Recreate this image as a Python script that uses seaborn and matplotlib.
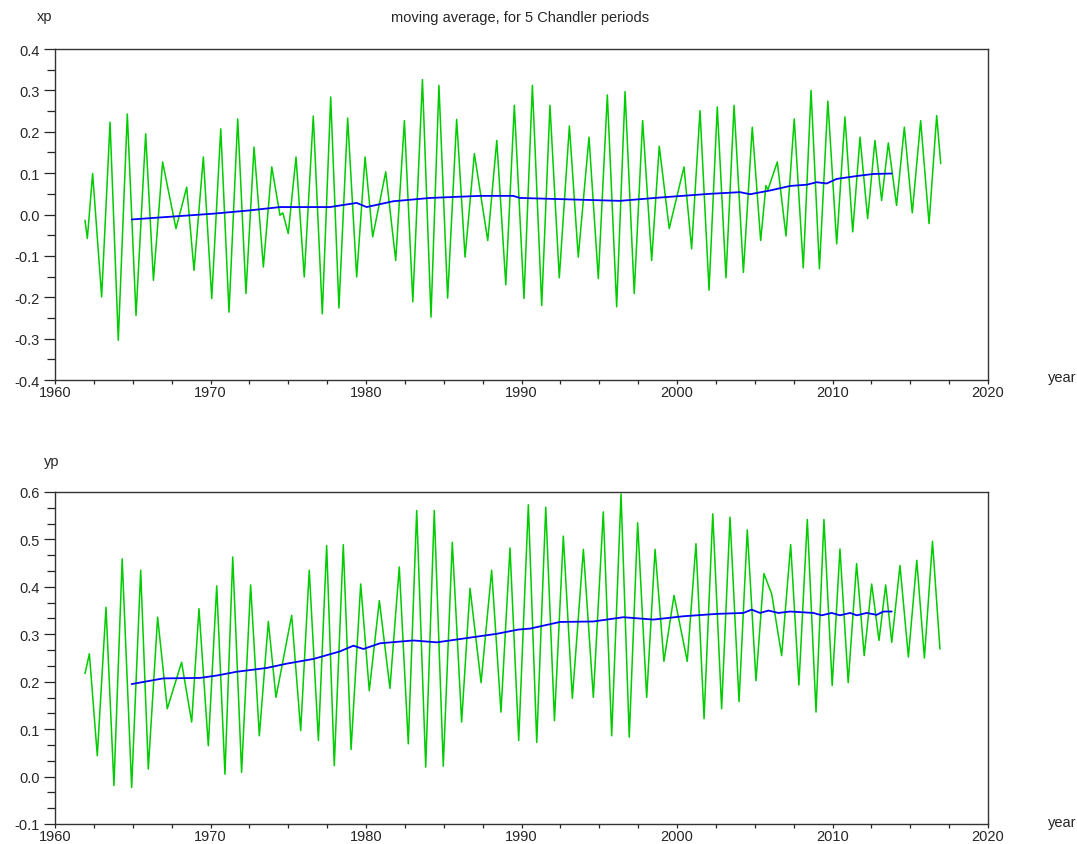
import numpy as np
import pandas as pd
import matplotlib
matplotlib.use("Agg")
import matplotlib.pyplot as plt
import seaborn as sns
from matplotlib.ticker import FixedLocator, MultipleLocator, FuncFormatter

# xp: turning points of the polar motion curve (year, arcsec)
xp_t = [1961.93, 1962.08, 1962.42, 1963.00, 1963.54, 1964.07, 1964.65, 1965.21, 1965.83, 1966.33,
        1966.92, 1967.78, 1968.47, 1968.94, 1969.54, 1970.08, 1970.66, 1971.19, 1971.75, 1972.28,
        1972.80, 1973.40, 1973.94, 1974.47, 1974.65, 1975.00, 1975.50, 1976.03, 1976.61, 1977.19,
        1977.73, 1978.26, 1978.82, 1979.40, 1979.94, 1980.43, 1981.27, 1981.91, 1982.47, 1983.01,
        1983.63, 1984.18, 1984.69, 1985.25, 1985.83, 1986.37, 1986.97, 1987.83, 1988.41, 1988.99,
        1989.54, 1990.16, 1990.70, 1991.30, 1991.83, 1992.43, 1993.08, 1993.65, 1994.34, 1994.94,
        1995.52, 1996.12, 1996.66, 1997.25, 1997.79, 1998.37, 1998.86, 1999.50, 2000.45, 2000.94,
        2001.48, 2002.06, 2002.59, 2003.15, 2003.67, 2004.27, 2004.84, 2005.38, 2005.72, 2005.85,
        2006.45, 2007.01, 2007.54, 2008.12, 2008.62, 2009.16, 2009.70, 2010.27, 2010.80, 2011.30,
        2011.77, 2012.26, 2012.73, 2013.16, 2013.59, 2014.12, 2014.62, 2015.13, 2015.67, 2016.21,
        2016.70, 2016.96]
xp_v = [-0.014, -0.058, 0.099, -0.199, 0.223, -0.304, 0.243, -0.244, 0.195, -0.159,
        0.127, -0.034, 0.066, -0.135, 0.139, -0.203, 0.207, -0.236, 0.231, -0.191,
        0.163, -0.127, 0.115, -0.002, 0.004, -0.046, 0.139, -0.151, 0.238, -0.240,
        0.284, -0.226, 0.233, -0.151, 0.139, -0.054, 0.103, -0.111, 0.227, -0.211,
        0.326, -0.248, 0.312, -0.202, 0.230, -0.103, 0.147, -0.063, 0.179, -0.170,
        0.264, -0.203, 0.312, -0.220, 0.264, -0.153, 0.214, -0.103, 0.187, -0.155,
        0.289, -0.223, 0.297, -0.191, 0.227, -0.111, 0.165, -0.034, 0.115, -0.083,
        0.251, -0.183, 0.260, -0.153, 0.264, -0.140, 0.211, -0.063, 0.070, 0.060,
        0.127, -0.052, 0.231, -0.129, 0.300, -0.131, 0.274, -0.071, 0.236, -0.042,
        0.187, -0.010, 0.179, 0.034, 0.173, 0.022, 0.211, 0.004, 0.227, -0.022,
        0.239, 0.123]

# xp moving average over 5 Chandler periods
xp_ma_t = [1964.93, 1967.18, 1970.18, 1972.54, 1974.47, 1977.68, 1979.40, 1980.04, 1981.75, 1984.12,
           1987.33, 1989.47, 1989.90, 1993.55, 1996.33, 1998.90, 2002.12, 2004.05, 2004.70, 2005.98,
           2007.27, 2008.34, 2008.98, 2009.63, 2010.27, 2011.56, 2012.63, 2013.81]
xp_ma_v = [-0.012, -0.006, 0.002, 0.010, 0.018, 0.018, 0.028, 0.018, 0.032, 0.040,
           0.045, 0.045, 0.040, 0.036, 0.033, 0.041, 0.050, 0.054, 0.049, 0.058,
           0.069, 0.072, 0.078, 0.075, 0.086, 0.093, 0.098, 0.099]

# yp turning points
yp_t = [1961.93, 1962.21, 1962.72, 1963.28, 1963.79, 1964.32, 1964.93, 1965.51, 1966.00, 1966.60,
        1967.22, 1968.14, 1968.79, 1969.26, 1969.86, 1970.40, 1970.93, 1971.43, 1972.00, 1972.58,
        1973.14, 1973.72, 1974.21, 1975.22, 1975.80, 1976.35, 1976.94, 1977.47, 1977.96, 1978.54,
        1979.04, 1979.66, 1980.21, 1980.86, 1981.54, 1982.14, 1982.72, 1983.26, 1983.84, 1984.39,
        1984.97, 1985.55, 1986.15, 1986.69, 1987.40, 1988.08, 1988.68, 1989.26, 1989.82, 1990.44,
        1990.98, 1991.56, 1992.12, 1992.69, 1993.27, 1993.98, 1994.62, 1995.26, 1995.80, 1996.40,
        1996.93, 1997.47, 1998.05, 1998.59, 1999.16, 1999.81, 2000.66, 2001.22, 2001.74, 2002.30,
        2002.87, 2003.41, 2003.99, 2004.52, 2005.08, 2005.59, 2006.09, 2006.73, 2007.31, 2007.84,
        2008.38, 2008.94, 2009.45, 2009.98, 2010.48, 2011.01, 2011.55, 2012.04, 2012.52, 2012.99,
        2013.42, 2013.81, 2014.34, 2014.88, 2015.42, 2015.91, 2016.43, 2016.91]
yp_v = [0.217, 0.259, 0.044, 0.357, -0.019, 0.459, -0.023, 0.435, 0.016, 0.336,
        0.143, 0.241, 0.115, 0.354, 0.065, 0.402, 0.005, 0.463, 0.009, 0.404,
        0.086, 0.327, 0.167, 0.340, 0.097, 0.435, 0.076, 0.487, 0.023, 0.489,
        0.057, 0.406, 0.181, 0.371, 0.186, 0.442, 0.069, 0.561, 0.020, 0.561,
        0.022, 0.494, 0.115, 0.397, 0.198, 0.435, 0.136, 0.482, 0.076, 0.573,
        0.072, 0.568, 0.118, 0.507, 0.165, 0.479, 0.167, 0.558, 0.086, 0.596,
        0.083, 0.535, 0.167, 0.479, 0.243, 0.382, 0.243, 0.491, 0.122, 0.554,
        0.143, 0.547, 0.158, 0.520, 0.202, 0.428, 0.385, 0.255, 0.489, 0.193,
        0.542, 0.136, 0.542, 0.192, 0.480, 0.198, 0.449, 0.255, 0.406, 0.287,
        0.404, 0.283, 0.445, 0.252, 0.456, 0.250, 0.496, 0.269]

yp_ma_t = [1964.93, 1966.11, 1966.96, 1969.32, 1970.40, 1971.68, 1973.61, 1974.89, 1976.62, 1978.33,
           1979.19, 1979.83, 1980.90, 1983.05, 1984.55, 1986.48, 1988.41, 1989.80, 1990.55, 1992.48,
           1994.62, 1996.55, 1998.48, 2000.41, 2002.55, 2004.27, 2004.80, 2005.34, 2005.88, 2006.52,
           2007.27, 2008.77, 2009.31, 2009.95, 2010.48, 2011.13, 2011.56, 2012.20, 2012.84, 2013.27,
           2013.81]
yp_ma_v = [0.195, 0.202, 0.207, 0.208, 0.213, 0.221, 0.229, 0.238, 0.248, 0.264,
           0.276, 0.269, 0.281, 0.287, 0.283, 0.292, 0.301, 0.310, 0.312, 0.326,
           0.327, 0.336, 0.331, 0.338, 0.343, 0.345, 0.352, 0.345, 0.350, 0.345,
           0.348, 0.345, 0.340, 0.345, 0.340, 0.345, 0.340, 0.345, 0.341, 0.348,
           0.348]

sns.set_style("ticks")
plt.rcParams['font.family'] = ['Liberation Sans', 'DejaVu Sans']
plt.rcParams['font.size'] = 10.5

green = "#00cc00"
blue = "#0000ff"

fig = plt.figure(figsize=(10.77, 8.45), dpi=100)
ax1 = fig.add_axes([55 / 1077, 1 - 381 / 845, 933 / 1077, 331 / 845])
ax2 = fig.add_axes([55 / 1077, 1 - 825 / 845, 933 / 1077, 332 / 845])


def fmt(v, pos):
    return "%.1f" % (round(v, 2) + 0.0)


def draw(ax, t, v, ma_t, ma_v, ylo, yhi, minor_ticks):
    sns.lineplot(x=t, y=v, ax=ax, color=green, linewidth=1.1)
    sns.lineplot(x=ma_t, y=ma_v, ax=ax, color=blue, linewidth=1.3)
    ax.set_xlim(1960, 2020)
    ax.set_ylim(ylo, yhi)
    ax.xaxis.set_major_locator(MultipleLocator(10))
    ax.xaxis.set_minor_locator(MultipleLocator(2.5))
    ax.yaxis.set_major_locator(FixedLocator(np.round(np.arange(ylo, yhi + 0.001, 0.1), 2)))
    ax.yaxis.set_minor_locator(FixedLocator(minor_ticks))
    ax.yaxis.set_major_formatter(FuncFormatter(fmt))
    ax.tick_params(axis="y", which="major", length=8, width=0.9, pad=3, labelsize=10.5)
    ax.tick_params(axis="y", which="minor", length=5.5, width=0.9)
    ax.tick_params(axis="x", which="both", length=3, width=0.9, pad=0.5, labelsize=10.5)
    for s in ax.spines.values():
        s.set_visible(True)
        s.set_linewidth(1.0)
        s.set_color("#333333")
    ax.set_xlabel("")
    ax.set_ylabel("")


draw(ax1, xp_t, xp_v, xp_ma_t, xp_ma_v, -0.4, 0.4, np.arange(-0.4, 0.401, 0.05))
draw(ax2, yp_t, yp_v, yp_ma_t, yp_ma_v, -0.1, 0.6, np.arange(-0.1, 0.601, 0.1 / 3))

fig.text(45 / 1077, 1 - 17 / 845, "xp", ha="center", va="center", fontsize=10.5)
fig.text(520 / 1077, 1 - 18 / 845, "moving average, for 5 Chandler periods",
         ha="center", va="center", fontsize=10.5)
fig.text(1062 / 1077, 1 - 378 / 845, "year", ha="center", va="center", fontsize=10.5)
fig.text(52 / 1077, 1 - 462 / 845, "yp", ha="center", va="center", fontsize=10.5)
fig.text(1062 / 1077, 1 - 823 / 845, "year", ha="center", va="center", fontsize=10.5)

fig.savefig("out.png", dpi=100)
